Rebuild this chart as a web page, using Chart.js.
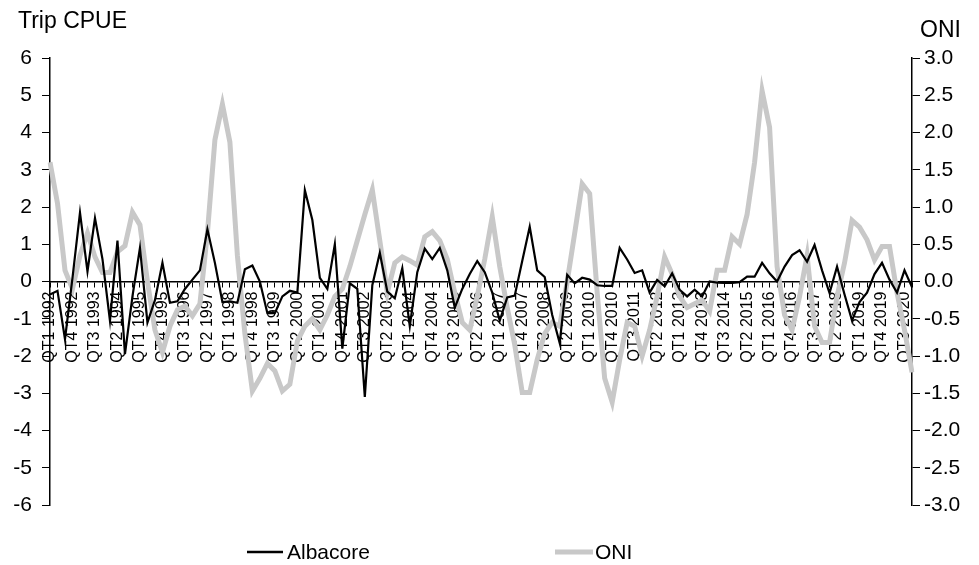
<!DOCTYPE html>
<html>
<head>
<meta charset="utf-8">
<title>Trip CPUE vs ONI</title>
<script src="https://cdn.jsdelivr.net/npm/chart.js@4.4.0/dist/chart.umd.min.js"></script>
<style>
  html, body { margin: 0; padding: 0; background: #fff; }
</style>
</head>
<body>
<canvas id="myChart" width="979" height="565"></canvas>
<script>
// quarters QT1 1992 .. QT4 2020
var firstYear = 1992;
var lastYear = 2020;
var quarterNames = ['QT1', 'QT2', 'QT3', 'QT4'];

var albacoreCpue = [
  -0.35, -0.25, -1.55, 0.1, 1.85, 0.27, 1.7, 0.6, -1.05, 1.1,
  -1.95, -0.4, 0.9, -1.1, -0.5, 0.5, -0.57, -0.53, -0.2, 0.05,
  0.3, 1.4, 0.5, -0.55, -0.53, -0.57, 0.33, 0.43, 0.0, -0.85,
  -0.85, -0.4, -0.25, -0.3, 2.45, 1.65, 0.1, -0.2, 1.0, -1.8,
  -0.05, -0.2, -3.1, -0.1, 0.77, -0.27, -0.45, 0.36, -1.2, 0.25,
  0.88, 0.6, 0.9, 0.3, -0.7, -0.2, 0.2, 0.55, 0.25, -0.3,
  -1.05, -0.43, -0.38, 0.55, 1.47, 0.3, 0.12, -0.9, -1.65, 0.18,
  -0.05, 0.1, 0.05, -0.1, -0.12, -0.12, 0.9, 0.59, 0.23, 0.3,
  -0.3, 0.04, -0.13, 0.22, -0.22, -0.4, -0.22, -0.4, 0.0, -0.03,
  -0.04, -0.04, -0.02, 0.13, 0.13, 0.5, 0.22, 0.0, 0.4, 0.71,
  0.84, 0.53, 0.98, 0.3, -0.31, 0.4, -0.35, -1.05, -0.55, -0.3,
  0.2, 0.5, 0.05, -0.3, 0.3, -0.15
];

var oniValues = [
  1.6, 1.05, 0.15, -0.1, 0.35, 0.65, 0.33, 0.12, 0.12, 0.4,
  0.48, 0.93, 0.76, 0.0, -0.65, -0.95, -0.6, -0.38, -0.33, -0.46,
  -0.3, 0.65, 1.9, 2.38, 1.87, 0.35, -0.7, -1.47, -1.3, -1.1,
  -1.2, -1.47, -1.38, -0.8, -0.6, -0.5, -0.65, -0.45, -0.2, -0.1,
  0.2, 0.55, 0.9, 1.23, 0.55, -0.15, 0.25, 0.33, 0.28, 0.22,
  0.6, 0.67, 0.55, 0.3, -0.15, -0.55, -0.65, -0.2, 0.3, 0.87,
  0.2, -0.35, -0.85, -1.49, -1.49, -1.05, -0.7, -0.55, -0.6, 0.0,
  0.65, 1.31, 1.18, -0.15, -1.3, -1.62, -1.05, -0.55, -0.6, -1.0,
  -0.65, -0.2, 0.33, 0.1, -0.2, -0.35, -0.3, -0.25, -0.4, 0.15,
  0.15, 0.6, 0.5, 0.9, 1.6, 2.56, 2.07, 0.2, -0.45, -0.65,
  -0.2, 0.35, -0.6, -0.82, -0.82, -0.2, 0.25, 0.82, 0.73, 0.56,
  0.29, 0.47, 0.47, -0.15, -0.65, -1.22
];

var labelEvery = 3;
var fontName = '"Liberation Sans", Arial, sans-serif';

var quarterLabels = [];
for (var yr = firstYear; yr <= lastYear; yr++) {
  quarterNames.forEach(function (q) {
    quarterLabels.push(q + ' ' + yr);
  });
}

// axis titles and the legend are drawn by hand so they sit where Excel put them
var extraText = {
  id: 'extraText',
  afterDraw: function (chart) {
    var ctx = chart.ctx;
    ctx.save();
    ctx.fillStyle = '#000';
    ctx.textBaseline = 'middle';
    ctx.font = '23px ' + fontName;
    ctx.textAlign = 'left';
    ctx.fillText('Trip CPUE', 18, 22);
    ctx.textAlign = 'right';
    ctx.fillText('ONI', 961, 31);

    ctx.textAlign = 'left';
    ctx.font = '21px ' + fontName;
    ctx.lineCap = 'butt';
    ctx.strokeStyle = '#000';
    ctx.lineWidth = 2.5;
    ctx.beginPath();
    ctx.moveTo(247, 552);
    ctx.lineTo(283, 552);
    ctx.stroke();
    ctx.fillText('Albacore', 287, 553);

    ctx.strokeStyle = '#c8c8c8';
    ctx.lineWidth = 5;
    ctx.beginPath();
    ctx.moveTo(555, 552);
    ctx.lineTo(593, 552);
    ctx.stroke();
    ctx.fillText('ONI', 595, 553);
    ctx.restore();
  }
};

new Chart('myChart', {
  type: 'line',
  data: {
    labels: quarterLabels,
    datasets: [{
      label: 'Albacore',
      data: albacoreCpue,
      yAxisID: 'y',
      borderColor: '#000',
      borderWidth: 2.2,
      pointRadius: 0,
      fill: false,
      order: 1
    }, {
      label: 'ONI',
      data: oniValues,
      yAxisID: 'y1',
      borderColor: '#c8c8c8',
      borderWidth: 5,
      pointRadius: 0,
      fill: false,
      order: 2
    }]
  },
  options: {
    responsive: false,
    animation: false,
    layout: { padding: { top: 58, bottom: 60, left: 0, right: 0 } },
    plugins: {
      legend: { display: false },
      tooltip: { enabled: false }
    },
    scales: {
      x: {
        position: { y: 0 },
        offset: false,
        grid: { drawOnChartArea: false, tickLength: 5, color: '#000' },
        border: { color: '#000', width: 1.5 },
        ticks: {
          autoSkip: false,
          minRotation: 90,
          maxRotation: 90,
          padding: 5,
          color: '#000',
          font: { family: fontName, size: 16 },
          callback: function (v, i) {
            return i % labelEvery === 0 ? this.getLabelForValue(v) : '';
          }
        }
      },
      y: {
        position: 'left',
        min: -6,
        max: 6,
        grid: { drawOnChartArea: false, tickLength: 8, color: '#000' },
        border: { color: '#000', width: 1.5 },
        ticks: { stepSize: 1, padding: 10, color: '#000', font: { family: fontName, size: 21 } },
        afterFit: function (scale) { scale.width = 50; }
      },
      y1: {
        position: 'right',
        min: -3,
        max: 3,
        grid: { drawOnChartArea: false, tickLength: 8, color: '#000' },
        border: { color: '#000', width: 1.5 },
        ticks: {
          stepSize: 0.5,
          padding: 4,
          color: '#000',
          font: { family: fontName, size: 21 },
          callback: function (v) { return v.toFixed(1); }
        },
        afterFit: function (scale) { scale.width = 67; }
      }
    }
  },
  plugins: [extraText]
});
</script>
</body>
</html>
